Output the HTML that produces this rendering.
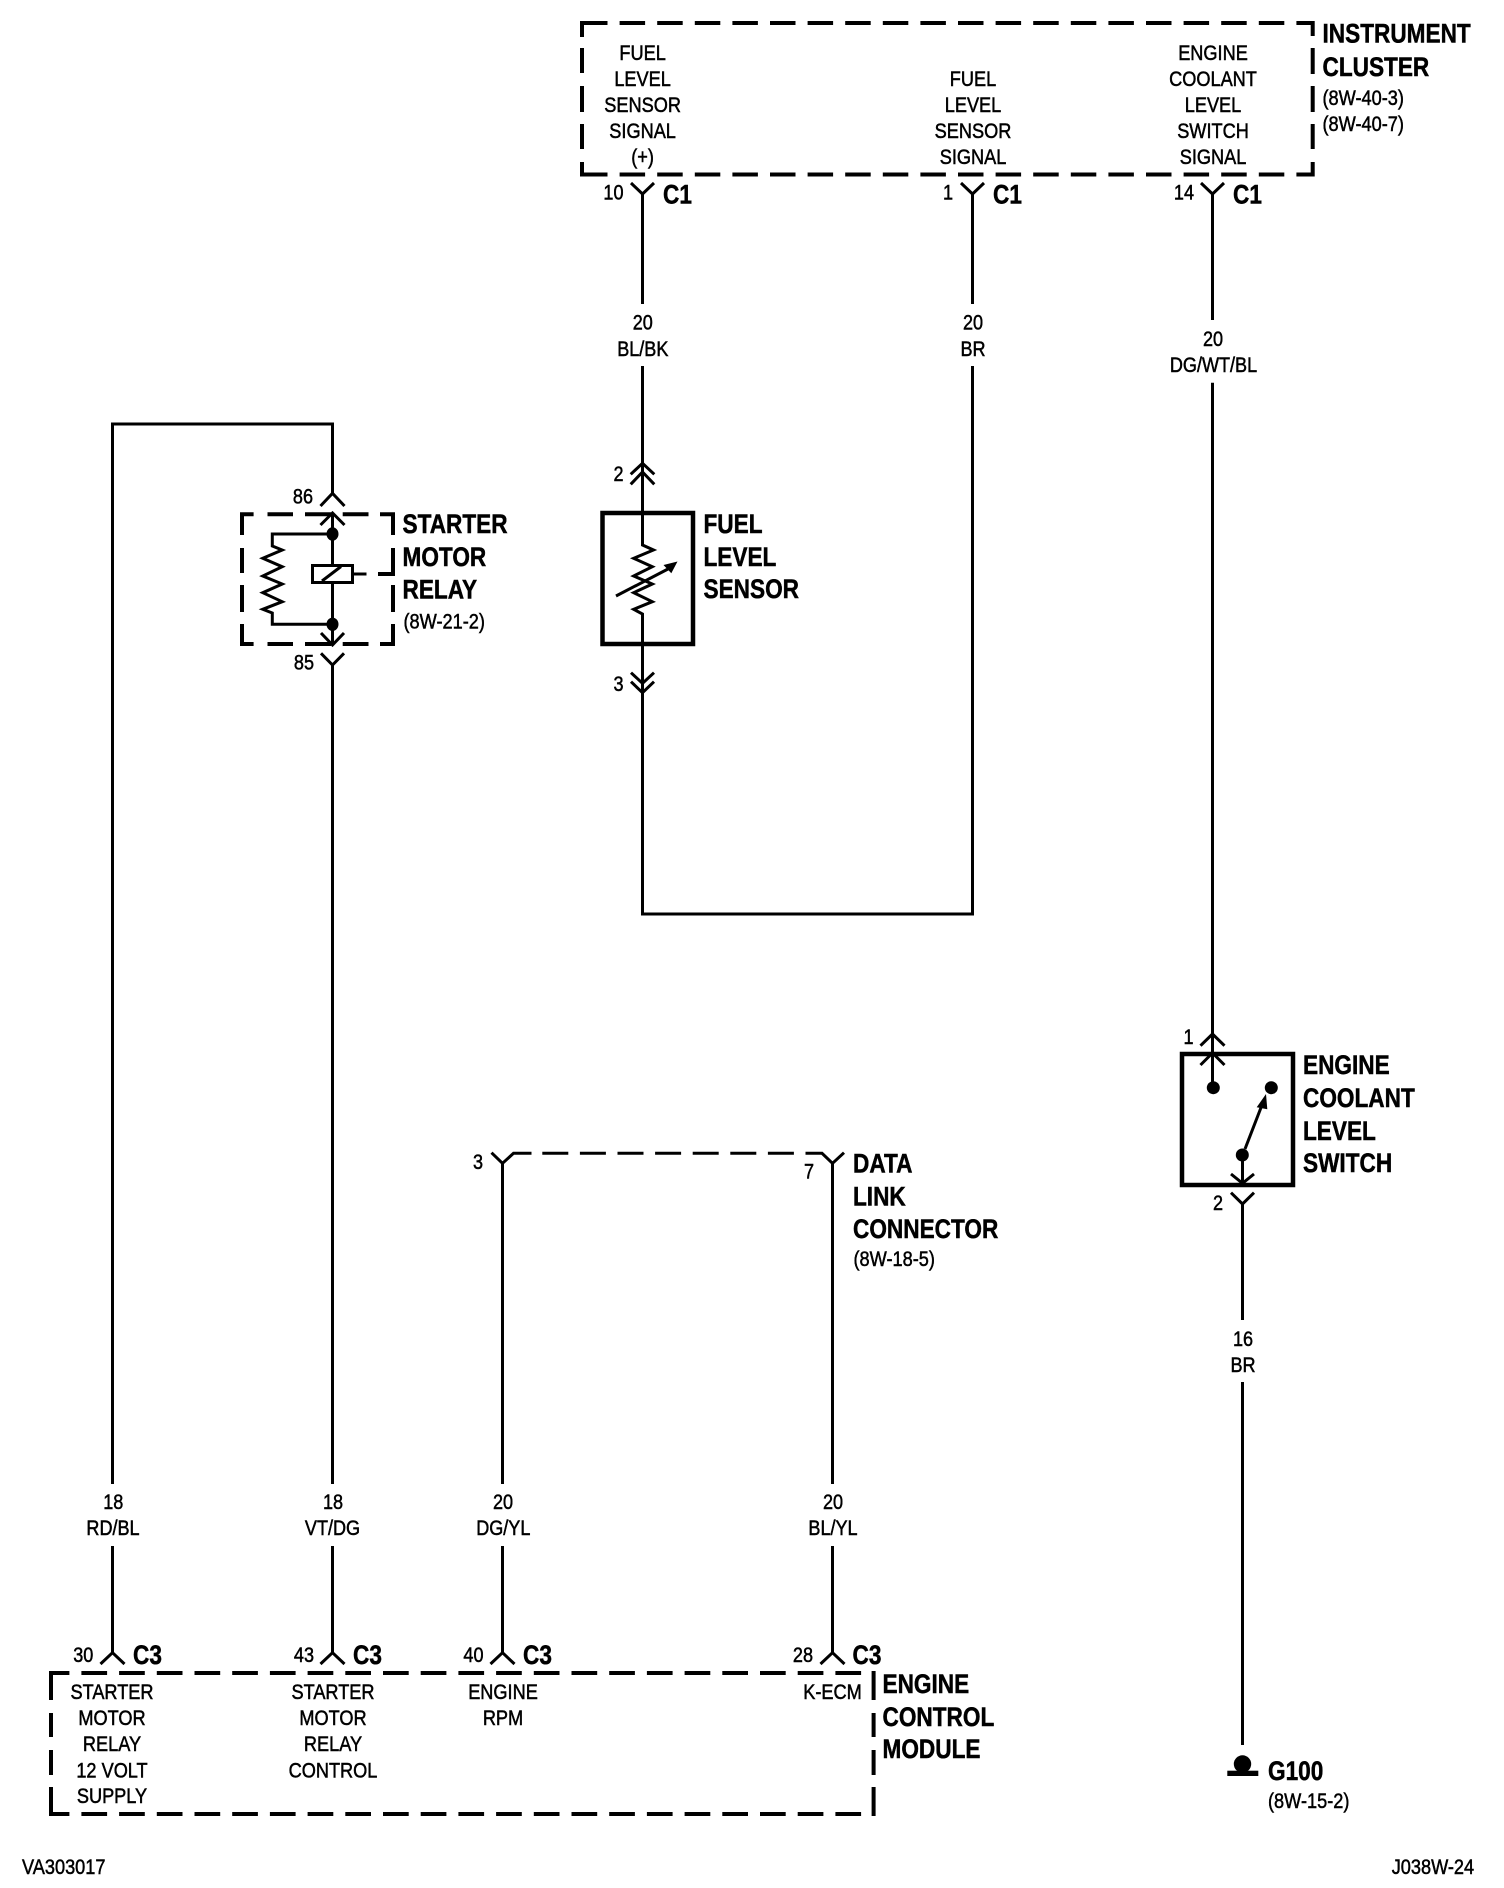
<!DOCTYPE html>
<html><head><meta charset="utf-8"><title>Wiring diagram</title>
<style>
html,body{margin:0;padding:0;background:#fff}
svg{display:block}
text{font-family:"Liberation Sans",sans-serif;fill:#000}
.s text{font-size:21px;stroke:#000;stroke-width:.5}
.b text{font-size:27px;font-weight:bold;stroke:#000;stroke-width:.5}
.w{fill:none;stroke:#000;stroke-width:3}
.d{fill:none;stroke:#000;stroke-width:4}
.t{fill:none;stroke:#000;stroke-width:4.5}
</style></head>
<body>
<svg width="1504" height="1888" viewBox="0 0 1504 1888" xmlns="http://www.w3.org/2000/svg">
<rect width="1504" height="1888" fill="#fff"/>

<!-- Instrument cluster box -->
<path class="d" stroke-dasharray="25.5 12.1" d="M582 23H1313"/>
<path class="d" stroke-dasharray="25.5 12.1" d="M582 174.5H1313"/>
<path class="d" d="M582 21V37M582 48V73M582 86V112M582 124V149M582 162V176.5M1312.7 21V36M1312.7 48V74M1312.7 86V112M1312.7 124V149M1312.7 162V176.5"/>

<!-- top wires -->
<path class="w" d="M642.5 194V304M642.5 366V472M630.7 474.3L642.5 463.3L654.3 474.3M630.7 484.3L642.5 472L654.3 484.3M642.5 472V545L653.5 550L633.7 558.3L652.3 566.7L633.7 576L652.3 584L633.7 592.7L652.3 601.7L633.7 609.3L642.5 614V914H972.5V366M972.5 304V194"/>
<path class="w" d="M1212.5 194V320M1212.5 382.7V1087"/>
<path class="w" d="M631 183L642.5 194L654 183M961 183L972.5 194L984 183M1201 183L1212.5 194L1224 183"/>

<!-- Fuel level sensor -->
<rect class="t" x="602.5" y="513" width="90.5" height="131"/>
<path class="w" d="M631 672.7L642.5 683.3L654 672.7M631 681.7L642.5 692.7L654 681.7"/>
<path d="M616 596L668 569" class="w"/>
<polygon points="677.5,561.5 663.5,565 671.3,573.3"/>

<!-- Starter motor relay -->
<path class="d" d="M242 512.3V535M242 548V573M242 585V612M242 624V646M393 512.3V535M393 548V576M393 585V612M393 624V646M240 514.3H253.6M267.5 514.3H293M305 514.3H331M342.7 514.3H368.5M380 514.3H395M240 644H253.6M267.5 644H293M305 644H331M342.7 644H368.5M380 644H395M378 574H395"/>
<path class="w" d="M112.5 1484V424H332.5V493.3M320.5 506L332.5 493.3L344.5 506M320.5 525L332.5 513L344.5 525M332.5 513V565M332.5 583V645M321 633L332.5 645L344 633M321 653.3L332.5 665L344 653.3M332.5 665V1484"/>
<path class="w" d="M332.5 534H272.3V546L282.2 550L262.8 558.3L282.2 566.7L262.8 576L282.2 584L262.8 592.7L282.2 601.7L262.8 609.3L272.3 613V624.3H332.5"/>
<ellipse cx="332.5" cy="534" rx="6" ry="6.7"/>
<ellipse cx="332.5" cy="624.3" rx="6" ry="6.7"/>
<rect class="w" x="312.5" y="565.5" width="40" height="17"/>
<path class="w" d="M322 581L341 566.5M352 574H366.5"/>

<!-- left wires lower parts -->
<path class="w" d="M112.5 1546V1653M332.5 1546V1653M502.5 1546V1653M832.5 1546V1653"/>
<path class="w" d="M100.5 1664L112.5 1652.7L124.5 1664M320.5 1664L332.5 1652.7L344.5 1664M490.5 1664L502.5 1652.7L514.5 1664M820.5 1664L832.5 1652.7L844.5 1664"/>

<!-- Data link connector -->
<path class="w" d="M502.5 1484V1163M832.5 1484V1163M491.5 1152.7L502.5 1163.3L513.5 1153.3H531.5M542.3 1153.3H568.3M579.9 1153.3H605.9M617.5 1153.3H643.5M655.1 1153.3H681.1M692.7 1153.3H718.7M730.3 1153.3H756.3M767.9 1153.3H793.9M805.5 1153.3H822L832.5 1163.3L844 1152.7"/>

<!-- ECM box -->
<path class="d" stroke-dasharray="25.7 12" stroke-dashoffset="5.3" d="M49 1673H875"/>
<path class="d" stroke-dasharray="25.7 12" stroke-dashoffset="5.3" d="M49 1814H875"/>
<path class="d" d="M51 1671V1700M51 1713V1737M51 1750V1775M51 1787V1816M873.6 1671V1700M873.6 1713V1737M873.6 1750V1775M873.6 1787V1816"/>

<!-- Engine coolant level switch -->
<rect class="t" x="1182" y="1054" width="111" height="131"/>
<path class="w" d="M1200.5 1045.7L1212.5 1034L1224.5 1045.7M1200.5 1065L1212.5 1053L1224.5 1065"/>
<circle cx="1213.3" cy="1087.7" r="6.5"/>
<circle cx="1271.3" cy="1087.7" r="6.5"/>
<circle cx="1242.3" cy="1155" r="6.5"/>
<path class="w" d="M1245 1149L1262 1105"/>
<polygon points="1266,1094 1256.7,1107.3 1267.3,1109.3"/>
<path class="w" d="M1242.5 1155V1185M1231 1174L1242.5 1183.3L1254 1174M1231 1192.7L1242.5 1204L1254 1192.7M1242.5 1204V1320M1242.5 1382V1745"/>

<!-- Ground -->
<circle cx="1242.5" cy="1764" r="8.7"/>
<rect x="1227.3" y="1770.7" width="31" height="5.3"/>

<g class="s" text-anchor="middle">
<text transform="translate(642.6 60) scale(.865 1)">FUEL</text>
<text transform="translate(642.6 86) scale(.865 1)">LEVEL</text>
<text transform="translate(642.6 112) scale(.865 1)">SENSOR</text>
<text transform="translate(642.6 138) scale(.865 1)">SIGNAL</text>
<text transform="translate(642.6 164) scale(.865 1)">(+)</text>
<text transform="translate(973 86) scale(.865 1)">FUEL</text>
<text transform="translate(973 112) scale(.865 1)">LEVEL</text>
<text transform="translate(973 138) scale(.865 1)">SENSOR</text>
<text transform="translate(973 164) scale(.865 1)">SIGNAL</text>
<text transform="translate(1213 60) scale(.865 1)">ENGINE</text>
<text transform="translate(1213 86) scale(.865 1)">COOLANT</text>
<text transform="translate(1213 112) scale(.865 1)">LEVEL</text>
<text transform="translate(1213 138) scale(.865 1)">SWITCH</text>
<text transform="translate(1213 164) scale(.865 1)">SIGNAL</text>

<text transform="translate(642.8 329.5) scale(.86 1)">20</text>
<text transform="translate(642.8 356) scale(.86 1)">BL/BK</text>
<text transform="translate(973 329.5) scale(.86 1)">20</text>
<text transform="translate(973 356) scale(.86 1)">BR</text>
<text transform="translate(1213 346) scale(.86 1)">20</text>
<text transform="translate(1213.5 372) scale(.86 1)">DG/WT/BL</text>
<text transform="translate(1243 1346) scale(.86 1)">16</text>
<text transform="translate(1243 1372) scale(.86 1)">BR</text>

<text transform="translate(113.3 1509) scale(.86 1)">18</text>
<text transform="translate(113 1535) scale(.86 1)">RD/BL</text>
<text transform="translate(333 1509) scale(.86 1)">18</text>
<text transform="translate(332.5 1535) scale(.86 1)">VT/DG</text>
<text transform="translate(503 1509) scale(.86 1)">20</text>
<text transform="translate(503.3 1535) scale(.86 1)">DG/YL</text>
<text transform="translate(833 1509) scale(.86 1)">20</text>
<text transform="translate(833 1535) scale(.86 1)">BL/YL</text>

<text transform="translate(112 1699) scale(.865 1)">STARTER</text>
<text transform="translate(112 1725) scale(.865 1)">MOTOR</text>
<text transform="translate(112 1751) scale(.865 1)">RELAY</text>
<text transform="translate(112 1777.3) scale(.865 1)">12 VOLT</text>
<text transform="translate(112 1803) scale(.865 1)">SUPPLY</text>
<text transform="translate(333 1699) scale(.865 1)">STARTER</text>
<text transform="translate(333 1725) scale(.865 1)">MOTOR</text>
<text transform="translate(333 1751) scale(.865 1)">RELAY</text>
<text transform="translate(333 1777.3) scale(.865 1)">CONTROL</text>
<text transform="translate(503 1699) scale(.865 1)">ENGINE</text>
<text transform="translate(503 1725) scale(.865 1)">RPM</text>
<text transform="translate(832.5 1699) scale(.865 1)">K-ECM</text>
</g>

<g class="s" text-anchor="end">
<text transform="translate(623.5 199.5) scale(.86 1)">10</text>
<text transform="translate(953 199.5) scale(.86 1)">1</text>
<text transform="translate(1194 199.5) scale(.86 1)">14</text>
<text transform="translate(623.5 481) scale(.86 1)">2</text>
<text transform="translate(623.5 691) scale(.86 1)">3</text>
<text transform="translate(313 503.5) scale(.86 1)">86</text>
<text transform="translate(314 669.5) scale(.86 1)">85</text>
<text transform="translate(1193.5 1044) scale(.86 1)">1</text>
<text transform="translate(1223 1210) scale(.86 1)">2</text>
<text transform="translate(483 1169) scale(.86 1)">3</text>
<text transform="translate(814 1178.5) scale(.86 1)">7</text>
<text transform="translate(93.3 1662) scale(.86 1)">30</text>
<text transform="translate(314 1662) scale(.86 1)">43</text>
<text transform="translate(483.5 1662) scale(.86 1)">40</text>
<text transform="translate(813 1662) scale(.86 1)">28</text>
</g>

<g class="s">
<text transform="translate(1322.5 105) scale(.865 1)">(8W-40-3)</text>
<text transform="translate(1322.5 131) scale(.865 1)">(8W-40-7)</text>
<text transform="translate(403.5 628.5) scale(.865 1)">(8W-21-2)</text>
<text transform="translate(853.5 1266) scale(.865 1)">(8W-18-5)</text>
<text transform="translate(1268 1808) scale(.865 1)">(8W-15-2)</text>
<text transform="translate(1391.7 1874) scale(.865 1)">J038W-24</text>
<text transform="translate(22 1874) scale(.865 1)">VA303017</text>
</g>

<g class="b">
<text transform="translate(1322.5 42.5) scale(.838 1)">INSTRUMENT</text>
<text transform="translate(1322.5 76) scale(.838 1)">CLUSTER</text>
<text transform="translate(402.5 533) scale(.838 1)">STARTER</text>
<text transform="translate(402.5 566) scale(.838 1)">MOTOR</text>
<text transform="translate(402.5 598.5) scale(.838 1)">RELAY</text>
<text transform="translate(703.5 533) scale(.838 1)">FUEL</text>
<text transform="translate(703.5 566) scale(.838 1)">LEVEL</text>
<text transform="translate(703.5 598) scale(.838 1)">SENSOR</text>
<text transform="translate(853 1172.5) scale(.838 1)">DATA</text>
<text transform="translate(853 1205.5) scale(.838 1)">LINK</text>
<text transform="translate(853 1238) scale(.838 1)">CONNECTOR</text>
<text transform="translate(1303 1074) scale(.838 1)">ENGINE</text>
<text transform="translate(1303 1107) scale(.838 1)">COOLANT</text>
<text transform="translate(1303 1140) scale(.838 1)">LEVEL</text>
<text transform="translate(1303 1172) scale(.838 1)">SWITCH</text>
<text transform="translate(882.5 1693) scale(.838 1)">ENGINE</text>
<text transform="translate(882.5 1726) scale(.838 1)">CONTROL</text>
<text transform="translate(882.5 1758) scale(.838 1)">MODULE</text>
<text transform="translate(1268 1780) scale(.838 1)">G100</text>
<text transform="translate(663 203.5) scale(.838 1)">C1</text>
<text transform="translate(993 203.5) scale(.838 1)">C1</text>
<text transform="translate(1233 203.5) scale(.838 1)">C1</text>
<text transform="translate(133 1664) scale(.838 1)">C3</text>
<text transform="translate(353 1664) scale(.838 1)">C3</text>
<text transform="translate(523 1664) scale(.838 1)">C3</text>
<text transform="translate(852.5 1664) scale(.838 1)">C3</text>
</g>
</svg>
</body></html>
